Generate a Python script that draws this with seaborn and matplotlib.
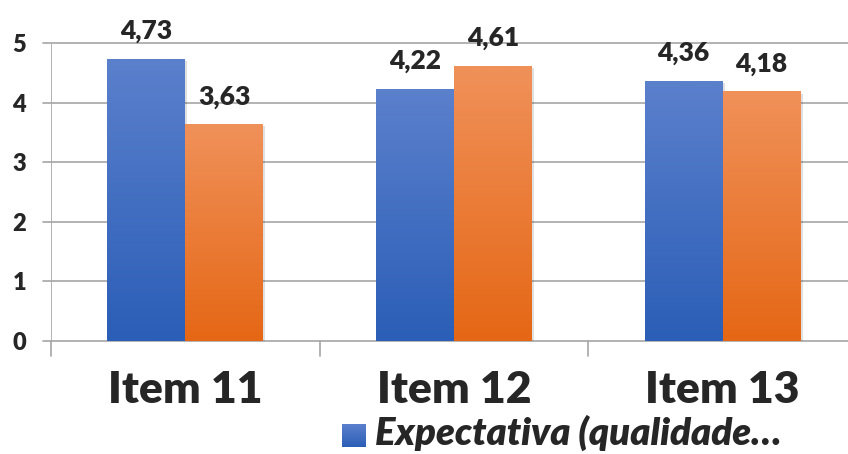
import numpy as np
import pandas as pd
import matplotlib
matplotlib.use("Agg")
import matplotlib.pyplot as plt
from matplotlib.colors import LinearSegmentedColormap
import seaborn as sns

categories = ["Item 11", "Item 12", "Item 13"]
expectativa = [4.73, 4.22, 4.36]
percepcao = [3.63, 4.61, 4.18]
series_names = ["Expectativa (qualidade…", "Percepção"]
y_ticks = [0, 1, 2, 3, 4, 5]

df = pd.DataFrame({
    "item": categories * 2,
    "valor": expectativa + percepcao,
    "serie": [series_names[0]] * 3 + [series_names[1]] * 3,
})

sns.set_theme(style="white")
plt.rcParams["font.family"] = ["Lato", "DejaVu Sans"]
W = "heavy"

fig = plt.figure(figsize=(8.48, 4.54), dpi=100)
ax = fig.add_axes([51 / 848, 113 / 454, 806 / 848, 298 / 454])

sns.barplot(data=df, x="item", y="valor", hue="serie", ax=ax,
            width=0.58, palette=["#4472C4", "#ED7D31"], legend=False,
            saturation=1)

ax.set_ylim(0, 5)
ax.set_xlim(-0.5, 2.5)
ax.set_yticks(y_ticks)
ax.set_yticklabels([str(t) for t in y_ticks], fontsize=17, fontweight=W)
ax.set_xticks([0, 1, 2])
ax.set_xticklabels(categories, fontsize=32, fontweight=W)
ax.tick_params(axis="x", length=0, pad=21)
ax.tick_params(axis="y", length=0, pad=18)
ax.set_xlabel("")
ax.set_ylabel("")

# gridlines and axis lines
for t in y_ticks:
    ax.plot([-0.53, 2.5], [t, t], color="#A6A6A6", lw=1.2, clip_on=False, zorder=0.5)
for xs in [-0.5, 0.5, 1.5]:
    ax.plot([xs, xs], [0, -0.25], color="#A6A6A6", lw=1.2, clip_on=False, zorder=0.5)
ax.plot([-0.5, -0.5], [0, 5], color="#A6A6A6", lw=1.2, zorder=0.5)
for s in ax.spines.values():
    s.set_visible(False)

grad_blue = LinearSegmentedColormap.from_list("b", ["#2B5EB7", "#5B80CC"])
grad_orange = LinearSegmentedColormap.from_list("o", ["#E56715", "#F0915A"])
grad = np.linspace(0, 1, 256).reshape(-1, 1)

values = expectativa + percepcao
for i, patch in enumerate(ax.patches[:6]):
    x0, y0 = patch.get_x(), patch.get_y()
    w, h = patch.get_width(), patch.get_height()
    cmap = grad_blue if i < 3 else grad_orange
    patch.set_facecolor("none")
    patch.set_edgecolor("none")
    # soft shadow
    ax.add_patch(plt.Rectangle((x0 + 0.008, y0 - 0.03), w, h, color="#000000",
                               alpha=0.12, lw=0, zorder=1))
    ax.imshow(grad, cmap=cmap, extent=[x0, x0 + w, y0, y0 + h], origin="lower",
              aspect="auto", zorder=2)
    ax.text(x0 + w / 2, y0 + h + 0.27, f"{values[i]:.2f}".replace(".", ","),
            ha="center", va="bottom", fontsize=19, fontweight=W, zorder=3)

ax.set_xlim(-0.5, 2.5)
ax.set_ylim(0, 5)

# legend entry
lax = fig.add_axes([342 / 848, (454 - 447) / 454, 24 / 848, 23 / 454])
lax.imshow(grad, cmap=grad_blue, origin="lower", aspect="auto")
lax.axis("off")
fig.text(375 / 848, (454 - 445) / 454, series_names[0], fontsize=27.5,
         fontweight=W, fontstyle="italic", va="baseline", ha="left")

fig.savefig("out.png", dpi=100, facecolor="white")
